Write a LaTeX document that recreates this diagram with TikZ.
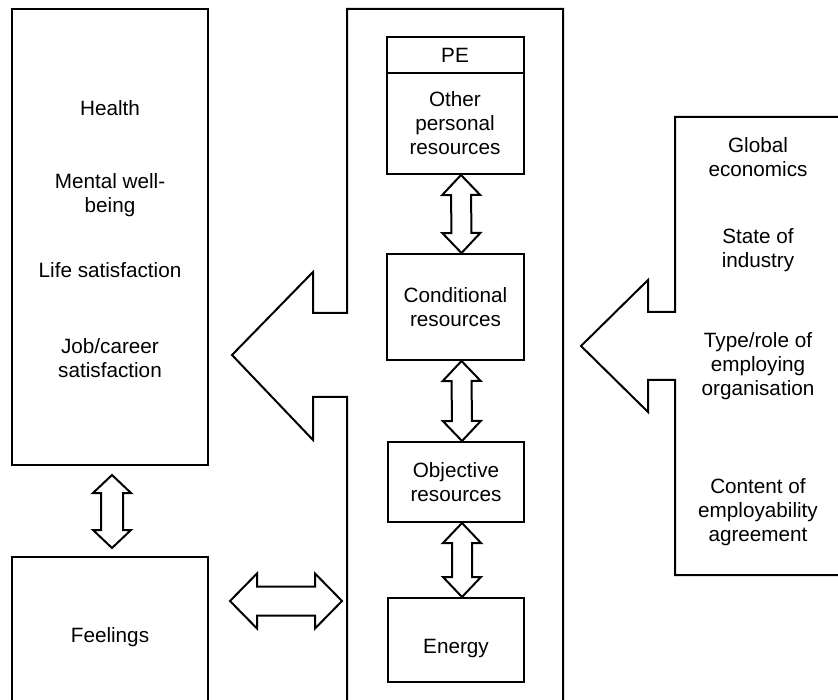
\documentclass[tikz,border=0pt]{standalone}
\usepackage{fontspec}
\setmainfont{Liberation Sans}
\usetikzlibrary{calc}

% hollow double block arrow: tip a, tip b, head length, head half width, shaft half width
\newcommand\dblarrow[5]{%
  \coordinate (pa) at (#1);
  \coordinate (pb) at (#2);
  \coordinate (ha) at ($(pa)!#3pt!(pb)$);
  \coordinate (hb) at ($(pb)!#3pt!(pa)$);
  \draw (pa) -- ($(ha)!#4pt!90:(pb)$) -- ($(ha)!#5pt!90:(pb)$)
    -- ($(hb)!#5pt!-90:(pa)$) -- ($(hb)!#4pt!-90:(pa)$) -- (pb)
    -- ($(hb)!#4pt!90:(pa)$) -- ($(hb)!#5pt!90:(pa)$)
    -- ($(ha)!#5pt!-90:(pb)$) -- ($(ha)!#4pt!-90:(pb)$) -- cycle;}

\begin{document}
\begin{tikzpicture}
  [x=1pt,y=-1pt,line width=2pt,
   every node/.style={font=\fontsize{20.7}{24}\selectfont,align=center},
   box/.style={draw,minimum width=#1}]
  \useasboundingbox (0,0) rectangle (838,700);
  \clip (0,0) rectangle (838,700);

  % left side: outcomes and feelings
  \node[box=196pt,minimum height=456pt] (outcomes) at (110,237) {};
  \node (health) at (110,108) {Health};
  \node (mental) at (110,195) {Mental well-\\being};
  \node (life)   at (110,270) {Life satisfaction};
  \node (job)    at (110,358) {Job/career\\satisfaction};
  \node[box=196pt,minimum height=160pt] (feel) at (110,637) {Feelings};

  % middle panel with arrow to the left
  \draw (347,720) -- (347,397) -- (313,397) -- (313,440) -- (232,355)
    -- (313,272) -- (313,313) -- (347,313) -- (347,9) -- (563,9) -- (563,720);
  \coordinate (midW) at (347,601);

  \node[box=137pt,minimum height=36pt]  (pe)     at (455,55)    {PE};
  \node[box=137pt,minimum height=101pt] (other)  at (455,123.5) {Other\\personal\\resources};
  \node[box=137pt,minimum height=106pt] (cond)   at (455.5,307) {Conditional\\resources};
  \node[box=136pt,minimum height=80pt]  (obj)    at (456,482)   {Objective\\resources};
  \node[box=136pt,minimum height=84pt]  (energy) at (456,640)   {\raisebox{-13pt}[0pt][0pt]{Energy}};

  % right panel with arrow to the left
  \draw (850,117) -- (675,117) -- (675,312) -- (648,312) -- (648,280) -- (581,346)
    -- (648,412) -- (648,380) -- (675,380) -- (675,575) -- (850,575);
  \node (glob)    at (758,157) {Global\\economics};
  \node (state)   at (758,250) {State of\\industry};
  \node (type)    at (758,366) {Type/role of\\employing\\organisation};
  \node (content) at (758,512) {Content of\\employability\\agreement};

  \foreach \from/\to in {other.south/cond.north,cond.south/obj.north,obj.south/energy.north}
    \dblarrow{[xshift=6pt]\from}{[xshift=6pt]\to}{20}{19}{10};
  \dblarrow{[xshift=2pt,yshift=-9pt]outcomes.south}{[xshift=2pt,yshift=8pt]feel.north}{18}{19}{11};
  \dblarrow{[xshift=21pt,yshift=36pt]feel.east}{[xshift=-5pt]midW}{27}{27.5}{14.5};

\end{tikzpicture}
\end{document}
